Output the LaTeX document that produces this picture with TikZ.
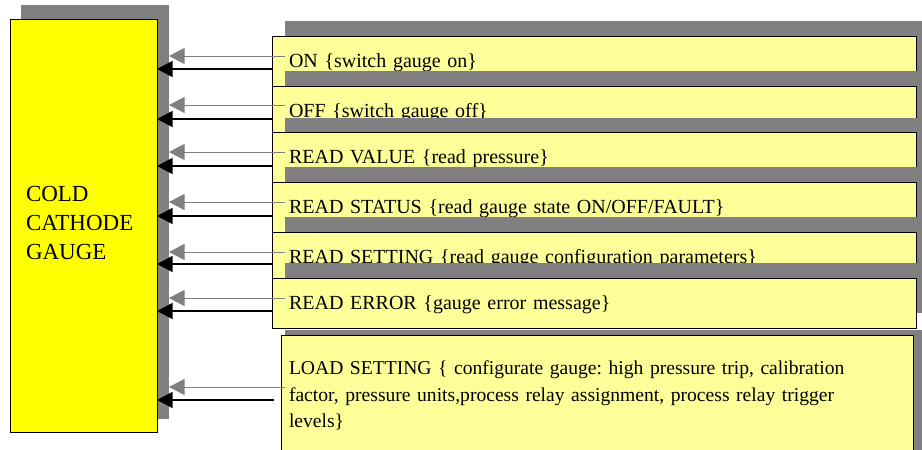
\documentclass[tikz,border=0pt]{standalone}
\usepackage{fontspec}
\setmainfont{Liberation Serif}
\usetikzlibrary{arrows.meta}
\definecolor{shadowgray}{HTML}{808080}
\definecolor{lightyellow}{HTML}{FFFF99}
\definecolor{gaugeyellow}{HTML}{FFFF00}
\frenchspacing
\begin{document}
\begin{tikzpicture}[x=1pt,y=-1pt,
  shadowbox/.style={fill=shadowgray, draw=none, inner sep=0pt, outer sep=0pt, anchor=north west},
  mainbox/.style={fill=gaugeyellow, draw=black, line width=0.8pt, anchor=north west, outer sep=0pt,
    minimum width=147pt, minimum height=413pt, text width=115pt, inner xsep=16pt, inner ysep=0pt,
    align=left, font=\fontsize{23}{29}\selectfont, text depth=64pt},
  cmdbox/.style={fill=lightyellow, draw=black, line width=0.8pt, anchor=north west, outer sep=0pt,
    minimum height=50pt, text width=610pt, inner xsep=17pt, inner ysep=0pt, align=left,
    font=\fontsize{20}{26.5}\selectfont, text height=14pt, text depth=2pt},
  loadbox/.style={fill=lightyellow, draw=black, line width=0.8pt, anchor=north west, outer sep=0pt,
    text width=616pt, inner xsep=8pt, inner ysep=26pt, align=left,
    font=\fontsize{19.6}{26.5}\selectfont},
  grayarrow/.style={draw=shadowgray, line width=0.9pt, -{Triangle[length=15.5pt,width=16pt]}},
  blackarrow/.style={draw=black, line width=1.2pt, -{Triangle[length=15.5pt,width=16pt]}},
]
\useasboundingbox (0,0) rectangle (922,450);

% main gauge box
\node[shadowbox, minimum width=148pt, minimum height=414pt] (mshadow) at (21,5) {};
\node[mainbox] (main) at (10,19) {COLD\\CATHODE\\GAUGE};

% command boxes
\node[shadowbox, minimum width=644pt, minimum height=50pt] (s1) at (285,21) {};
\node[cmdbox] (b1) at (272,36) {ON \{switch gauge on\}};
\node[shadowbox, minimum width=644pt, minimum height=50pt] (s2) at (285,71) {};
\node[cmdbox] (b2) at (272,86) {OFF \{switch gauge off\}};
\node[shadowbox, minimum width=644pt, minimum height=50pt] (s3) at (285,118) {};
\node[cmdbox] (b3) at (272,132) {READ VALUE \{read pressure\}};
\node[shadowbox, minimum width=644pt, minimum height=50pt] (s4) at (285,167) {};
\node[cmdbox] (b4) at (272,182) {READ STATUS \{read gauge state ON/OFF/FAULT\}};
\node[shadowbox, minimum width=644pt, minimum height=50pt] (s5) at (285,217) {};
\node[cmdbox] (b5) at (272,232) {READ SETTING \{read gauge configuration parameters\}};
\node[shadowbox, minimum width=644pt, minimum height=50pt] (s6) at (285,263) {};
\node[cmdbox] (b6) at (272,278) {READ ERROR \{gauge error message\}};
\node[shadowbox, minimum width=645pt, minimum height=140pt] (s7) at (285,330) {};
\node[loadbox] (b7) at (281,335) {LOAD SETTING \{ configurate gauge: high pressure trip, calibration\\factor, pressure units,process relay assignment, process relay trigger\\levels\}};

% connectors
\foreach \k/\g/\b in {1/5/-8, 2/6/-8, 3/5/-9, 4/5/-9, 5/5/-7, 6/5/-8} {
  \path ([xshift=13pt,yshift=\g pt]b\k.west) coordinate (gs\k)
        ([yshift=\b pt]b\k.west) coordinate (bs\k);
  \draw[grayarrow] (gs\k) -- (gs\k -| mshadow.east);
  \draw[blackarrow] (bs\k) -- (bs\k -| main.east);
}
\path ([xshift=4pt,yshift=-52pt]b7.north west) coordinate (gs7)
      ([xshift=-7pt,yshift=-65pt]b7.north west) coordinate (bs7);
\draw[grayarrow] (gs7) -- (gs7 -| mshadow.east);
\draw[blackarrow] (bs7) -- (bs7 -| main.east);
\end{tikzpicture}
\end{document}
